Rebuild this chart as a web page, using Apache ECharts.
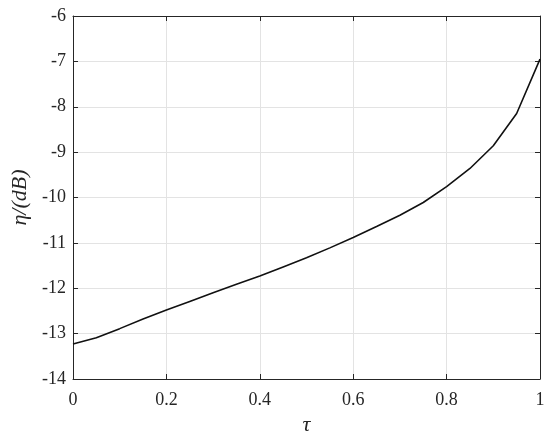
<!DOCTYPE html>
<html>
<head>
<meta charset="utf-8">
<script src="https://cdn.jsdelivr.net/npm/echarts@6/dist/echarts.min.js"></script>
<style>
html,body{margin:0;padding:0;background:#fff;}
#c{width:550px;height:438px;}
</style>
</head>
<body>
<div id="c"></div>
<script>
const tau = [0, 0.05, 0.1, 0.15, 0.2, 0.25, 0.3, 0.35, 0.4, 0.45, 0.5, 0.55, 0.6, 0.65, 0.7, 0.75, 0.8, 0.85, 0.9, 0.95, 1];
const eta = [-13.23, -13.09, -12.89, -12.68, -12.48, -12.29, -12.10, -11.91, -11.73, -11.53, -11.33, -11.11, -10.88, -10.64, -10.39, -10.11, -9.76, -9.36, -8.86, -8.15, -6.95];
const xLabel = 'τ';
const yLabel = 'η/(dB)';

const font = 'Liberation Serif';
const axisColor = '#262626';
const textColor = '#262626';
const gridColor = '#e3e3e3';

const chart = echarts.init(document.getElementById('c'), null, {renderer: 'canvas'});
const baseAxis = {
  axisLine: {show: true, onZero: false, lineStyle: {color: axisColor, width: 1}},
  axisTick: {show: true, inside: true, length: 5, lineStyle: {color: axisColor}},
  axisLabel: {color: textColor, fontFamily: font, fontSize: 18},
  splitLine: {show: false}
};
chart.setOption({
  animation: false,
  grid: {left: 73, right: 10, top: 16, bottom: 59, containLabel: false, outerBoundsMode: 'none'},
  xAxis: [
    Object.assign({}, baseAxis, {
      type: 'value', min: 0, max: 1, interval: 0.2, position: 'bottom',
      name: xLabel, nameLocation: 'middle', nameGap: 31,
      nameTextStyle: {fontFamily: font, fontStyle: 'italic', fontSize: 22, color: textColor},
      axisLabel: {color: textColor, fontFamily: font, fontSize: 18, margin: 12,
        formatter: v => String(Math.round(v * 10) / 10)},
      splitLine: {show: true, lineStyle: {color: gridColor, width: 1}}
    }),
    Object.assign({}, baseAxis, {
      type: 'value', min: 0, max: 1, interval: 0.2, position: 'top',
      axisLabel: {show: false}
    })
  ],
  yAxis: [
    Object.assign({}, baseAxis, {
      type: 'value', min: -14, max: -6, interval: 1, position: 'left',
      name: yLabel, nameLocation: 'middle', nameGap: 36,
      nameTextStyle: {fontFamily: font, fontStyle: 'italic', fontSize: 22, color: textColor},
      axisLabel: {color: textColor, fontFamily: font, fontSize: 18, margin: 7},
      splitLine: {show: true, lineStyle: {color: gridColor, width: 1}}
    }),
    Object.assign({}, baseAxis, {
      type: 'value', min: -14, max: -6, interval: 1, position: 'right',
      axisLabel: {show: false}
    })
  ],
  series: [{
    type: 'line',
    data: tau.map((t, i) => [t, eta[i]]),
    showSymbol: false,
    symbol: 'none',
    lineStyle: {color: '#111', width: 1.6},
    xAxisIndex: 0, yAxisIndex: 0
  }]
});
</script>
</body>
</html>
